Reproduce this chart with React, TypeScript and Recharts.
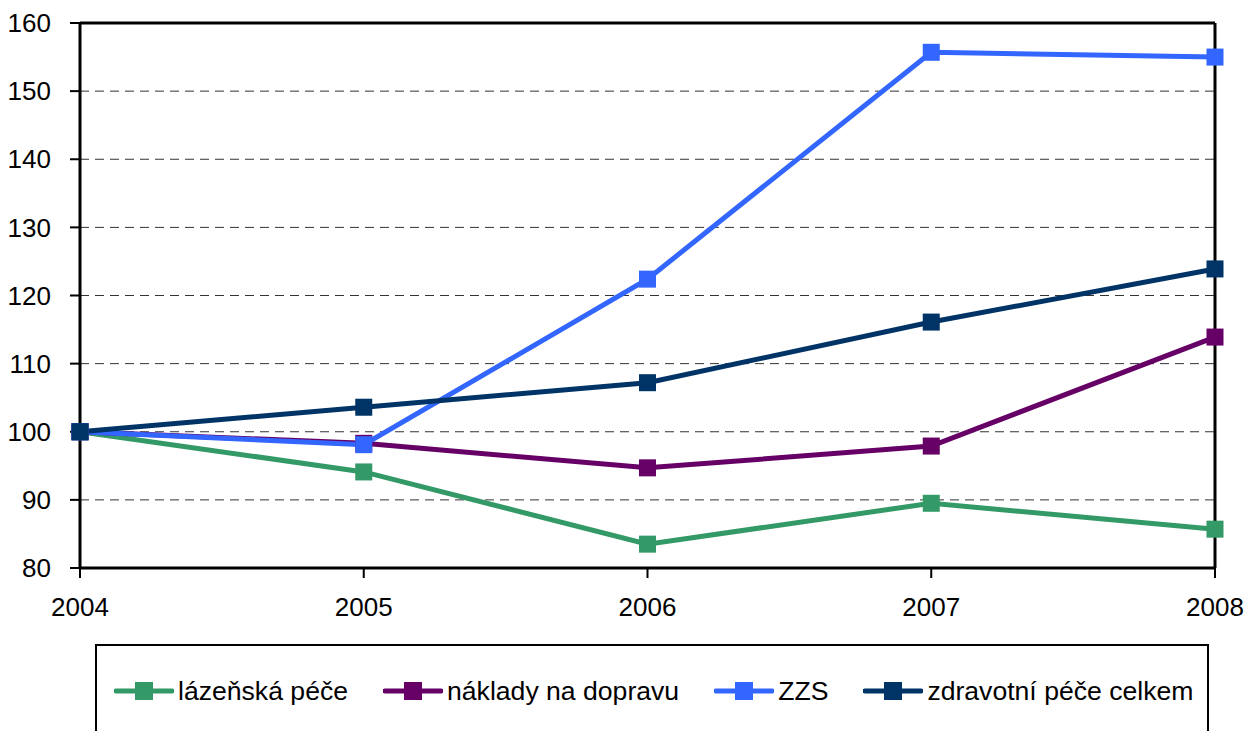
import { LineChart, Line, XAxis, YAxis, CartesianGrid, ReferenceLine, Legend } from "recharts";

const years = ["2004", "2005", "2006", "2007", "2008"];
const lazenska = [100, 94.1, 83.5, 89.5, 85.7];
const naklady = [100, 98.3, 94.7, 97.9, 113.9];
const zzs = [100, 98.1, 122.4, 155.7, 155.0];
const zdravotni = [100, 103.6, 107.2, 116.1, 123.9];
const yTicks = [80, 90, 100, 110, 120, 130, 140, 150, 160];

const series = [
  { key: "lazenska", name: "lázeňská péče", color: "#339966", values: lazenska },
  { key: "naklady", name: "náklady na dopravu", color: "#660066", values: naklady },
  { key: "zzs", name: "ZZS", color: "#3366FF", values: zzs },
  { key: "zdravotni", name: "zdravotní péče celkem", color: "#003366", values: zdravotni },
];

const data = years.map((year, i) => {
  const row: Record<string, string | number> = { year };
  series.forEach((s) => (row[s.key] = s.values[i]));
  return row;
});

const FONT = '"Liberation Sans", Arial, sans-serif';

function squareDot(color: string) {
  return (p: any) => {
    if (p.cx == null || p.cy == null) return <g key={`${p.dataKey}-${p.index}`} />;
    return (
      <rect
        key={`${p.dataKey}-${p.index}`}
        x={p.cx - 8.5}
        y={p.cy - 8.5}
        width={17}
        height={17}
        fill={color}
      />
    );
  };
}

function LegendBox() {
  return (
    <div
      style={{
        boxSizing: "border-box",
        width: 1114,
        height: 120,
        border: "2px solid #000",
        display: "flex",
        alignItems: "flex-start",
        paddingLeft: 17,
        paddingTop: 29,
        fontFamily: FONT,
        fontSize: 26.6,
        color: "#000",
        background: "#fff",
      }}
    >
      {series.map((s) => (
        <div key={s.key} style={{ display: "flex", alignItems: "center", marginRight: 35, height: 32 }}>
          <svg width={60} height={20} style={{ marginRight: 4 }}>
            <line x1={2} y1={10} x2={58} y2={10} stroke={s.color} strokeWidth={5} strokeLinecap="round" />
            <rect x={21} y={1} width={18} height={18} fill={s.color} />
          </svg>
          <span style={{ whiteSpace: "nowrap" }}>{s.name}</span>
        </div>
      ))}
    </div>
  );
}

export default function App() {
  return (
    <div style={{ position: "absolute", left: 0, top: 0, width: 1248, height: 731, background: "#fff" }}>
      <LineChart
        width={1248}
        height={731}
        data={data}
        margin={{ top: 23, right: 33, left: 0, bottom: 123 }}
      >
        <CartesianGrid vertical={false} stroke="#333" strokeDasharray="9 6" strokeWidth={1} />
        <XAxis
          dataKey="year"
          height={40}
          tickSize={10}
          tickMargin={20}
          axisLine={{ stroke: "#000", strokeWidth: 3 }}
          tickLine={{ stroke: "#000", strokeWidth: 2 }}
          tick={{ fill: "#000", fontSize: 26, fontFamily: FONT }}
          interval={0}
        />
        <YAxis
          width={80}
          domain={[80, 160]}
          ticks={yTicks}
          tickSize={10}
          tickMargin={19}
          axisLine={{ stroke: "#000", strokeWidth: 3 }}
          tickLine={{ stroke: "#000", strokeWidth: 2 }}
          tick={{ fill: "#000", fontSize: 26, fontFamily: FONT }}
          interval={0}
        />
        <ReferenceLine y={160} stroke="#000" strokeWidth={3} />
        <ReferenceLine x="2008" stroke="#000" strokeWidth={3} />
        {series.map((s) => (
          <Line
            key={s.key}
            type="linear"
            dataKey={s.key}
            name={s.name}
            stroke={s.color}
            strokeWidth={5}
            dot={squareDot(s.color)}
            activeDot={false}
            isAnimationActive={false}
          />
        ))}
        <Legend
          layout="horizontal"
          verticalAlign="middle"
          align="center"
          wrapperStyle={{ left: 95, top: 644, width: 1114 }}
          content={() => <LegendBox />}
        />
      </LineChart>
    </div>
  );
}
